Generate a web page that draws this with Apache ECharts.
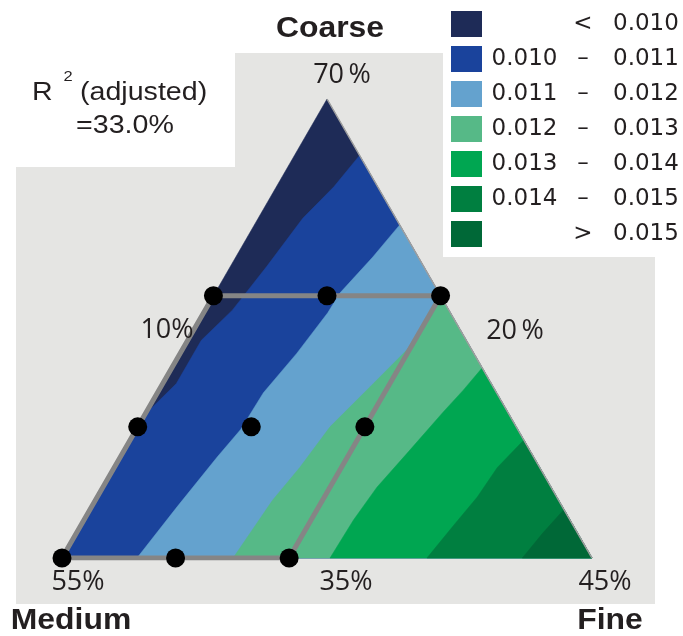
<!DOCTYPE html>
<html>
<head>
<meta charset="utf-8">
<script src="https://cdn.jsdelivr.net/npm/echarts@6/dist/echarts.min.js"></script>
<style>
  html, body { margin: 0; padding: 0; background: #ffffff; }
  #chart { width: 683px; height: 636px; }
</style>
</head>
<body>
<div id="chart"></div>
<script>
// Component ranges of the mixture region (percent)
const coarseRange = [35, 70];
const mediumRange = [20, 55];
const fineRange = [10, 45];

// Response bands: legend labels and fill colours
const bandLo = ['', '0.010', '0.011', '0.012', '0.013', '0.014', ''];
const bandSym = ['<', '\u2013', '\u2013', '\u2013', '\u2013', '\u2013', '>'];
const bandHi = ['0.010', '0.011', '0.012', '0.013', '0.014', '0.015', '0.015'];
const bandColors = ['#1e2b57', '#1a439c', '#64a2ce', '#56b987', '#00a651', '#007f40', '#006837'];

// Contour lines between neighbouring bands, as [Coarse %, Fine %] (Medium = 100 - Coarse - Fine)
const contour1 = [[65.7, 14.3], [63.3, 13.8], [60.9, 12.95], [57.2, 12.4], [53.9, 11.8], [51.6, 10.9], [48.3, 10.9], [45.9, 10]];
const contour2 = [[60.4, 19.6], [57.95, 19.05], [55.2, 18.25], [53.7, 18.2], [50.6, 17.7], [47.6, 17.0], [44.8, 16.9], [42.7, 16.4], [38.9, 15.65], [35, 14.95]];
const contour3 = [[54.8, 25.2], [50.9, 24.85], [48.0, 23.8], [45.0, 22.7], [41.9, 22.25], [39.4, 21.7], [35, 21.3]];
const contour4 = [[49.5, 30.5], [47.8, 30.1], [46.1, 29.6], [43.0, 28.8], [40.4, 28.1], [37.9, 27.8], [35, 27.7]];
const contour5 = [[44.0, 36.0], [41.9, 35.3], [39.65, 35.1], [37.4, 34.6], [35, 34.1]];
const contour6 = [[38.7, 41.3], [36.9, 40.8], [35, 40.4]];
const contours = [contour1, contour2, contour3, contour4, contour5, contour6];

// Design points [Coarse %, Fine %]
const designPoints = [
  [55, 10], [55, 17.5], [55, 25],
  [45, 10], [45, 17.5], [45, 25],
  [35, 10], [35, 17.5], [35, 25]
];
// Boundary of the experimental region [Coarse %, Fine %]
const regionOutline = [[55, 10], [55, 25], [35, 25], [35, 10], [55, 10]];

// Corner and side labels
const cornerLabels = { coarse: '70\u2009%', medium: '55%', fine: '45%' };
const sideLabels = { left: '10%', right: '20\u2009%', bottom: '35%' };

const SPAN = coarseRange[1] - coarseRange[0];
const H = Math.sqrt(3) / 2;

// [Coarse, Fine] percentages -> planar position inside the unit triangle
function toXY(p) {
  const c = (p[0] - coarseRange[0]) / SPAN;
  const f = (p[1] - fineRange[0]) / SPAN;
  return [f + c / 2, c * H];
}

const vertCoarse = [coarseRange[1], fineRange[0]];
const vertMedium = [coarseRange[0], fineRange[0]];
const vertFine = [coarseRange[0], fineRange[1]];

function bandPolygon(k) {
  if (k === 0) return [vertCoarse, vertMedium, vertFine];
  const pts = contours[k - 1].slice();
  const last = pts[pts.length - 1];
  if (last[1] <= fineRange[0]) pts.push(vertMedium);
  pts.push(vertFine);
  return pts;
}

const bandNames = bandLo.map((lo, i) => (lo ? lo + ' ' : '') + bandSym[i] + ' ' + bandHi[i]);

const textColor = '#231f20';
const numFont = 'DejaVu Sans';
const pctFont = 'Open Sans';
const labelFont = 'Liberation Sans';

const bandSeries = bandNames.map((name, k) => ({
  type: 'custom',
  name: name,
  coordinateSystem: 'cartesian2d',
  silent: true,
  clip: false,
  itemStyle: { color: bandColors[k] },
  data: [[k]],
  renderItem: function (params, api) {
    return {
      type: 'polygon',
      shape: { points: bandPolygon(k).map(p => api.coord(toXY(p))) },
      style: { fill: bandColors[k], stroke: bandColors[k], lineWidth: 0.5 }
    };
  }
}));

// text element placed at (x, y); optional horizontal stretch
function txt(text, x, y, size, opts) {
  opts = opts || {};
  return {
    type: 'text', z: 100,
    x: x, y: y,
    scaleX: opts.sx || 1, scaleY: 1,
    style: {
      text: text, x: 0, y: 0, fill: textColor,
      font: (opts.bold ? 'bold ' : '') + size + 'px "' + (opts.family || pctFont) + '"',
      textAlign: opts.align || 'center', textVerticalAlign: 'middle'
    }
  };
}

const chart = echarts.init(document.getElementById('chart'), null, { renderer: 'canvas' });

const richBase = { fontFamily: numFont, fontSize: 23, color: textColor, lineHeight: 26 };

chart.setOption({
  animation: false,
  color: bandColors,
  grid: { left: 62, top: 99, width: 530, height: 459, containLabel: false },
  xAxis: { type: 'value', min: 0, max: 1, show: false },
  yAxis: { type: 'value', min: 0, max: H, show: false },
  legend: {
    orient: 'vertical', left: 451, top: 11,
    itemWidth: 31, itemHeight: 26, itemGap: 9,
    icon: 'rect', selectedMode: false, padding: 0,
    data: bandNames,
    formatter: function (name) {
      const i = bandNames.indexOf(name);
      return '{lo|' + (bandLo[i] || ' ') + '}{sym|' + bandSym[i] + '}{hi|' + bandHi[i] + '}';
    },
    textStyle: {
      fontFamily: numFont, fontSize: 23, color: textColor,
      rich: {
        lo: Object.assign({ width: 75, align: 'right' }, richBase),
        sym: Object.assign({ width: 42, align: 'center' }, richBase),
        hi: Object.assign({ padding: [0, 0, 0, 9] }, richBase)
      }
    }
  },
  graphic: [
    // grey panel
    { type: 'rect', z: -10, shape: { x: 16, y: 167, width: 639, height: 437 }, style: { fill: '#e5e5e3' } },
    { type: 'rect', z: -10, shape: { x: 235, y: 53, width: 420, height: 114 }, style: { fill: '#e5e5e3' } },
    // legend box
    { type: 'rect', z: -5, shape: { x: 443, y: 0, width: 240, height: 257 }, style: { fill: '#ffffff' } },
    // titles
    txt('Coarse', 330, 29, 29, { bold: true, family: labelFont, sx: 1.1 }),
    txt('Medium', 71, 621, 29, { bold: true, family: labelFont, sx: 1.1 }),
    txt('Fine', 610, 621, 29, { bold: true, family: labelFont, sx: 1.1 }),
    // corner and side percentages
    txt(cornerLabels.coarse, 342, 75, 27),
    txt(cornerLabels.medium, 78, 582, 27),
    txt(cornerLabels.fine, 605, 582, 27),
    txt(sideLabels.bottom, 346, 582, 27),
    txt(sideLabels.left, 167, 330, 27),
    txt(sideLabels.right, 515, 331, 27),
    // model fit statistic
    txt('R', 32, 93, 26, { family: labelFont, sx: 1.1, align: 'left' }),
    txt('2', 68, 77, 15, { family: labelFont, sx: 1.1 }),
    txt('(adjusted)', 80, 93, 26, { family: labelFont, sx: 1.1, align: 'left' }),
    txt('=33.0%', 125, 126, 26, { family: labelFont, sx: 1.1 })
  ],
  series: bandSeries.concat([
    {
      type: 'line', name: 'edge', silent: true, symbol: 'none',
      lineStyle: { color: '#9e9e9e', width: 1.5 },
      data: [vertCoarse, vertFine].map(toXY), z: 3
    },
    {
      type: 'line', name: 'region', silent: true, symbol: 'none',
      lineStyle: { color: '#858585', width: 5 },
      data: regionOutline.map(toXY), z: 4
    },
    {
      type: 'scatter', name: 'runs', silent: true,
      symbol: 'circle', symbolSize: 19,
      itemStyle: { color: '#000000', opacity: 1 },
      data: designPoints.map(toXY), z: 5
    }
  ])
});
</script>
</body>
</html>
